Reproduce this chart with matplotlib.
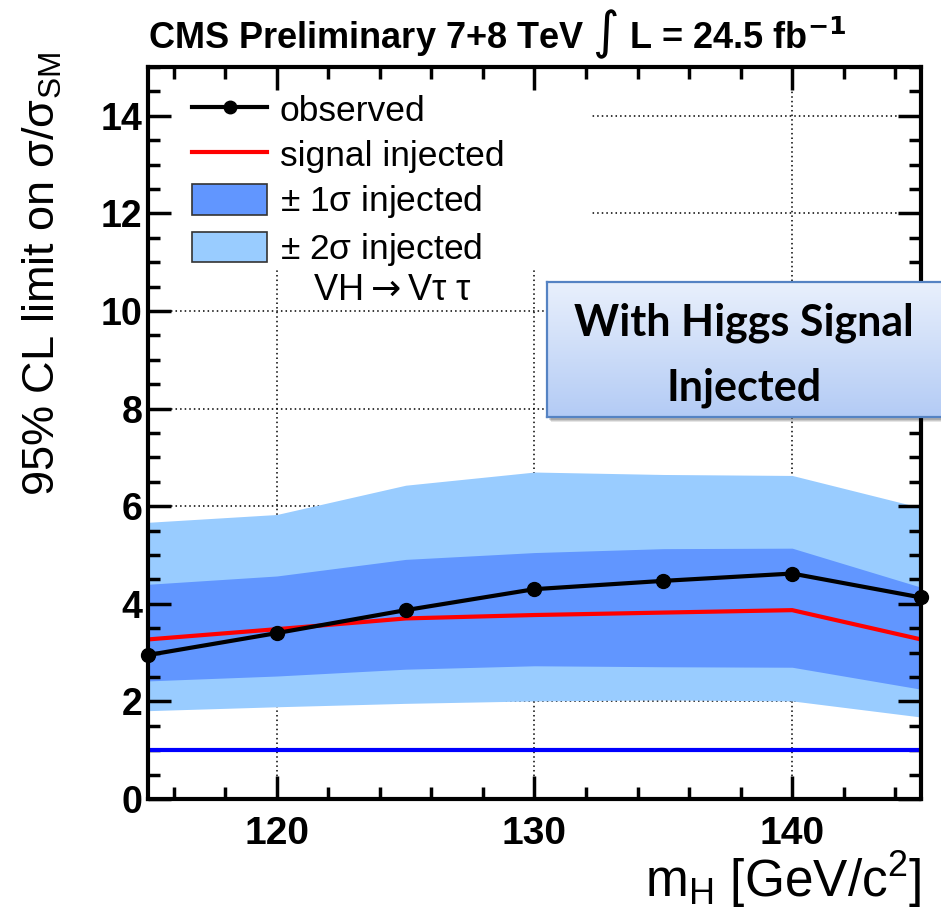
import numpy as np
import matplotlib
matplotlib.use("Agg")
import matplotlib.pyplot as plt
from matplotlib import font_manager
from matplotlib.colors import LinearSegmentedColormap
from matplotlib.lines import Line2D
from matplotlib.patches import Patch, Rectangle
from matplotlib.ticker import MultipleLocator

# VH -> V tau tau limits, with a 125 GeV Higgs injected
mass = [115, 120, 125, 130, 135, 140, 145]
observed = [2.95, 3.40, 3.87, 4.30, 4.47, 4.62, 4.13]
injected = [3.27, 3.48, 3.70, 3.77, 3.82, 3.87, 3.27]
band1_lo = [2.42, 2.52, 2.66, 2.73, 2.71, 2.70, 2.25]
band1_hi = [4.40, 4.57, 4.91, 5.05, 5.13, 5.14, 4.34]
band2_lo = [1.81, 1.89, 1.96, 2.01, 2.03, 2.01, 1.68]
band2_hi = [5.67, 5.83, 6.43, 6.70, 6.65, 6.63, 5.97]
sm_ref = 1.0

installed = {f.name for f in font_manager.fontManager.ttflist}
narrow = "Liberation Sans Narrow" if "Liberation Sans Narrow" in installed else "Liberation Sans"

plt.rcParams["font.family"] = ["Liberation Sans", "DejaVu Sans"]
plt.rcParams["mathtext.fontset"] = "custom"
plt.rcParams["mathtext.rm"] = narrow
plt.rcParams["mathtext.bf"] = narrow + ":bold"
plt.rcParams["mathtext.it"] = narrow + ":italic"

W, H = 941, 915
fig = plt.figure(figsize=(W / 100, H / 100), dpi=100)
ax = fig.add_axes([148 / W, 1 - 799 / H, (921 - 148) / W, (799 - 67) / H])

dark = "#6196ff"
light = "#99ccff"

ax.fill_between(mass, band2_lo, band2_hi, color=light, lw=0, zorder=1)
ax.fill_between(mass, band1_lo, band1_hi, color=dark, lw=0, zorder=1.1)
ax.axhline(sm_ref, color="#0000ff", lw=3, zorder=2)
ax.plot(mass, injected, color="#ff0000", lw=3, zorder=2.1)
ax.plot(mass, observed, color="black", lw=3, marker="o", ms=10,
        zorder=3, clip_on=False)

ax.set_xlim(115, 145)
ax.set_ylim(0, 15)
ax.xaxis.set_major_locator(MultipleLocator(10))
ax.xaxis.set_minor_locator(MultipleLocator(2))
ax.yaxis.set_major_locator(MultipleLocator(2))
ax.yaxis.set_minor_locator(MultipleLocator(0.5))

# dotted grid sits under the bands, ticks stay on top
for xv in ax.get_xticks():
    ax.axvline(xv, color="black", lw=1.1, ls=(0, (1, 2)), zorder=0.8)
for yv in ax.get_yticks():
    ax.axhline(yv, color="black", lw=1.1, ls=(0, (1, 2)), zorder=0.8)

# blank area behind the legend
ax.add_patch(Rectangle((0, 0.7227), 0.572, 0.2773, transform=ax.transAxes,
                       facecolor="white", edgecolor="none", zorder=1.5))

ax.tick_params(which="both", direction="in", top=True, right=True,
               width=2.5, color="black")
ax.tick_params(which="major", length=16.5)
ax.tick_params(which="minor", length=8.6)
ax.tick_params(axis="x", labelsize=28, pad=12)
ax.tick_params(axis="y", labelsize=27, pad=4)
for lab in ax.get_xticklabels() + ax.get_yticklabels():
    lab.set_fontweight("bold")
for sp in ax.spines.values():
    sp.set_linewidth(3)

handles = [
    Line2D([], [], color="black", lw=3, marker="o", ms=9),
    Line2D([], [], color="#ff0000", lw=3),
    Patch(facecolor=dark, edgecolor="#333333", lw=1.2),
    Patch(facecolor=light, edgecolor="#333333", lw=1.2),
]
labels = ["observed", "signal injected", r"$\pm$ 1σ injected", r"$\pm$ 2σ injected"]
leg = ax.legend(handles, labels, loc="upper left", bbox_to_anchor=(0.0569, 0.964),
                frameon=False, fontsize=25.5, handlelength=2.12, handleheight=0.95,
                handletextpad=0.36, labelspacing=0.3, borderpad=0, borderaxespad=0)
leg.set_zorder(4)

ax.text(0.316, 0.695, r"VH$\rightarrow$Vτ τ", transform=ax.transAxes, fontsize=26,
        ha="center", va="center", zorder=4, math_fontfamily="dejavusans")

fig.text(497 / W, 1 - 48 / H, r"CMS Preliminary 7+8 TeV $\int$ L = 24.5 fb$^{\mathbf{-1}}$",
         ha="center", va="baseline", fontsize=26, fontweight="bold",
         family=[narrow, "DejaVu Sans"], math_fontfamily="dejavusans")
fig.text(42 / W, 1 - 274 / H, r"95% CL limit on σ/σ$_{\rm SM}$", rotation=90,
         ha="center", va="center", fontsize=32.5, family=[narrow, "DejaVu Sans"])
fig.text(921 / W, 1 - 897 / H, r"m$_{\rm H}$ [GeV/c$^{2}$]", ha="right",
         va="baseline", fontsize=37)

# call-out box with a soft drop shadow
bx_rect = [547 / W, 1 - 417 / H, (945 - 547) / W, (417 - 282) / H]
for i, a in enumerate([0.10, 0.12, 0.15]):
    off = 5 - i
    fig.add_artist(Rectangle((bx_rect[0] + (off - 1) / W, bx_rect[1] - off / H),
                             bx_rect[2], bx_rect[3], transform=fig.transFigure,
                             facecolor="black", alpha=a, edgecolor="none", zorder=0.5))
bx = fig.add_axes(bx_rect)
bx.set_zorder(2)
grad = LinearSegmentedColormap.from_list("callout", ["#b3cbf5", "#e9f0fc"])
bx.imshow(np.linspace(0, 1, 256).reshape(-1, 1), cmap=grad, origin="lower",
          extent=[0, 1, 0, 1], aspect="auto")
bx.set_xticks([])
bx.set_yticks([])
for sp in bx.spines.values():
    sp.set_color("#5583c3")
    sp.set_linewidth(1.6)
bx.text(0.495, 0.46, "With Higgs Signal\nInjected", transform=bx.transAxes,
        ha="center", va="center", fontsize=31, fontweight="bold",
        family=["Lato", "DejaVu Sans"], linespacing=1.75)

fig.savefig("out.png", dpi=100)
